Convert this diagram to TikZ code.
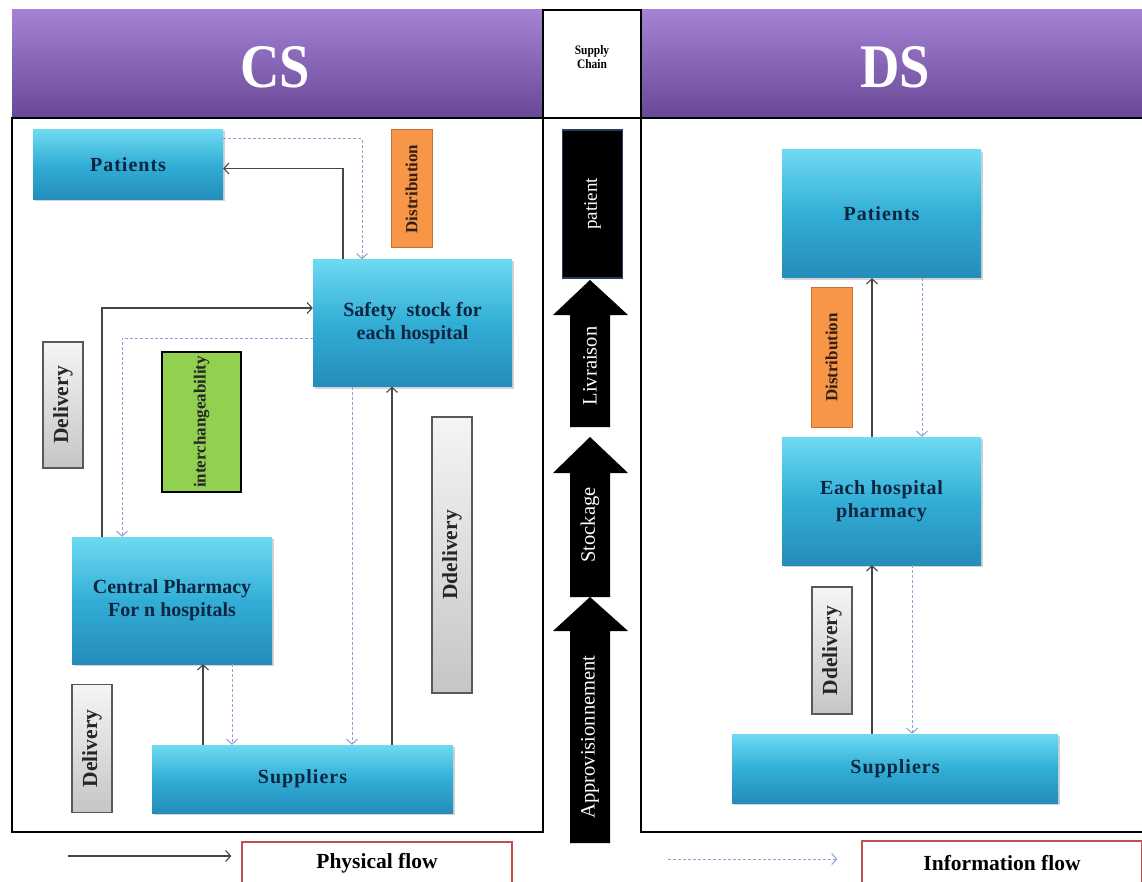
\documentclass[tikz,border=0pt]{standalone}
\usepackage{fontspec}
\setmainfont{Liberation Serif}
\newfontfamily\condfont[FakeStretch=0.88]{Liberation Serif}
\usetikzlibrary{arrows.meta,shadows}
\definecolor{blueT}{RGB}{110,218,242}
\definecolor{blueM}{RGB}{50,174,214}
\definecolor{blueB}{RGB}{36,140,186}
\definecolor{navytxt}{RGB}{12,38,66}
\definecolor{purT}{RGB}{165,130,212}
\definecolor{purM}{RGB}{128,92,172}
\definecolor{purB}{RGB}{104,72,150}
\definecolor{orangeF}{RGB}{247,150,70}
\definecolor{orangeD}{RGB}{200,112,52}
\definecolor{orangeTxt}{RGB}{50,30,20}
\definecolor{greenF}{RGB}{146,208,80}
\definecolor{legendred}{RGB}{192,80,77}
\definecolor{infoblue}{RGB}{140,160,210}
\definecolor{physgray}{RGB}{70,70,70}
\definecolor{patborder}{RGB}{40,60,95}
\begin{document}
\begin{tikzpicture}[x=1pt,y=-1pt,
  bluebox/.style={top color=blueT, bottom color=blueB, middle color=blueM, text=navytxt,
    font=\bfseries\fontsize{20}{23}\selectfont, align=center, inner sep=2pt,
    drop shadow={shadow xshift=2pt,shadow yshift=-2pt,opacity=0.35}},
  vlabel/.style={rotate=90, inner sep=1pt, font=\bfseries\fontsize{17}{19}\selectfont},
  orangebox/.style={vlabel, fill=orangeF, draw=orangeD, line width=1pt, text=orangeTxt},
  graybox/.style={vlabel, top color=gray!8, bottom color=gray!45, draw=gray!70!black, line width=1.2pt, text=black!85,
    font=\bfseries\fontsize{21.5}{23}\selectfont},
  greenbox/.style={vlabel, fill=greenF, draw=black, line width=2.5pt, text=black!85},
  arrowtxt/.style={rotate=90, text=white, font=\fontsize{20.5}{22}\selectfont},
  headtxt/.style={text=white, font=\condfont\bfseries\fontsize{62}{64}\selectfont},
  legendbox/.style={draw=legendred, line width=1.3pt, fill=white, font=\bfseries\fontsize{21.5}{23}\selectfont},
  phys/.style={draw=physgray, line width=1.1pt, -{Straight Barb[length=5pt,width=11pt]}},
  info/.style={draw=infoblue, line width=1pt, dash pattern=on 3pt off 2pt, -{Straight Barb[length=5pt,width=11pt]}}
]
\useasboundingbox (0,0) rectangle (1142,882);
\fill[white] (0,0) rectangle (1142,882);

% header
\shade[top color=purT, middle color=purM, bottom color=purB] (12,10) rectangle (543,118);
\shade[top color=purT, middle color=purM, bottom color=purB] (641,10) rectangle (1142,118);
\node[headtxt] (cs) at (275,67) {CS};
\node[headtxt] (ds) at (895,67) {DS};
\draw[line width=2.5pt, fill=white] (543,10) rectangle (641,118);
\node[align=center, font=\condfont\bfseries\fontsize{13}{14}\selectfont] (sc) at (592,57) {Supply\\Chain};

% panels
\draw[line width=2.2pt] (12,118) rectangle (543,832);
\draw[line width=2.2pt] (641,118) rectangle (1150,832);

% middle column
\node[fill=black, draw=patborder, line width=1.5pt, minimum width=148pt, minimum height=60pt,
  rotate=90, text=white, font=\fontsize{19}{20}\selectfont] (patient) at (592.5,204) {patient};
\fill[black] (590,280) -- (628,315) -- (610,315) -- (610,427) -- (570,427) -- (570,315) -- (553,315) -- cycle;
\fill[black] (590,437) -- (628,473) -- (610,473) -- (610,597) -- (570,597) -- (570,473) -- (553,473) -- cycle;
\fill[black] (590,597) -- (628,631) -- (610,631) -- (610,843) -- (570,843) -- (570,631) -- (553,631) -- cycle;
\node[arrowtxt] (livr) at (590,366) {Livraison};
\node[arrowtxt] (stock) at (590,525) {Stockage};
\node[arrowtxt] (appro) at (590,737) {Approvisionnement};

% CS boxes
\node[bluebox, minimum width=190pt, minimum height=70pt] (patc) at (128,164.5) {\addfontfeature{LetterSpace=5}Patients};
\node[bluebox, minimum width=199pt, minimum height=127pt] (saf) at (412.5,323) {Safety~ stock for\\each hospital};
\node[bluebox, minimum width=200pt, minimum height=127pt] (cen) at (172,600.5) {Central Pharmacy\\For n hospitals};
\node[bluebox, minimum width=301pt, minimum height=68pt] (supc) at (302.5,779) {\addfontfeature{LetterSpace=5}Suppliers};
\node[orangebox, minimum width=118pt, minimum height=41pt] (distc) at (411.5,189) {Distribution};
\node[graybox, minimum width=126pt, minimum height=40pt] (delc1) at (63,405) {Delivery};
\node[greenbox, minimum width=140pt, minimum height=79pt] (inter) at (201.5,422) {interchangeability};
\node[graybox, minimum width=276pt, minimum height=40pt] (ddelc) at (452,555) {Ddelivery};
\node[graybox, minimum width=128pt, minimum height=40pt] (delc2) at (92,748.5) {Delivery};

% CS connectors
\draw[phys] ([xshift=-69.5pt]saf.north) |- ([yshift=-4pt]patc.east);
\draw[info] ([yshift=26pt]patc.east) -| ([xshift=-50.5pt]saf.north);
\draw[phys] ([xshift=-70pt]cen.north) |- ([yshift=15pt]saf.west);
\draw[info] ([yshift=-15pt]saf.west) -| ([xshift=-50pt]cen.north);
\draw[phys] ([xshift=89.5pt]supc.north) -- ([xshift=-20.5pt]saf.south);
\draw[info] ([xshift=-60.5pt]saf.south) -- ([xshift=49.5pt]supc.north);
\draw[phys] ([xshift=-99.5pt]supc.north) -- ([xshift=31pt]cen.south);
\draw[info] ([xshift=60pt]cen.south) -- ([xshift=-70.5pt]supc.north);

% DS boxes
\node[bluebox, minimum width=199pt, minimum height=128pt] (patd) at (881.5,214) {\addfontfeature{LetterSpace=5}Patients};
\node[orangebox, minimum width=139pt, minimum height=41pt] (distd) at (831.5,357.5) {Distribution};
\node[bluebox, minimum width=199pt, minimum height=128pt] (hosp) at (881.5,501) {\addfontfeature{LetterSpace=3}Each hospital\\\addfontfeature{LetterSpace=3}pharmacy};
\node[graybox, minimum width=127pt, minimum height=40pt] (ddeld) at (832,650.5) {Ddelivery};
\node[bluebox, minimum width=326pt, minimum height=69pt] (supd) at (895,768.5) {\addfontfeature{LetterSpace=5}Suppliers};

% DS connectors
\draw[phys] ([xshift=-9.5pt]hosp.north) -- ([xshift=-9.5pt]patd.south);
\draw[info] ([xshift=40.5pt]patd.south) -- ([xshift=40.5pt]hosp.north);
\draw[phys] ([xshift=-23pt]supd.north) -- ([xshift=-9.5pt]hosp.south);
\draw[info] ([xshift=30.5pt]hosp.south) -- ([xshift=17pt]supd.north);

% legend
\node[legendbox, minimum width=270pt, minimum height=42pt] (physlg) at (377,863) {Physical flow};
\node[legendbox, minimum width=280pt, minimum height=44pt] (infolg) at (1002,863) {Information flow};
\coordinate (lphys) at (68,856);
\coordinate (linfo) at (668,859);
\draw[phys, shorten >=10pt] (lphys) -- (physlg.west |- lphys);
\draw[info, shorten >=24pt] (linfo) -- (infolg.west |- linfo);
\end{tikzpicture}
\end{document}
